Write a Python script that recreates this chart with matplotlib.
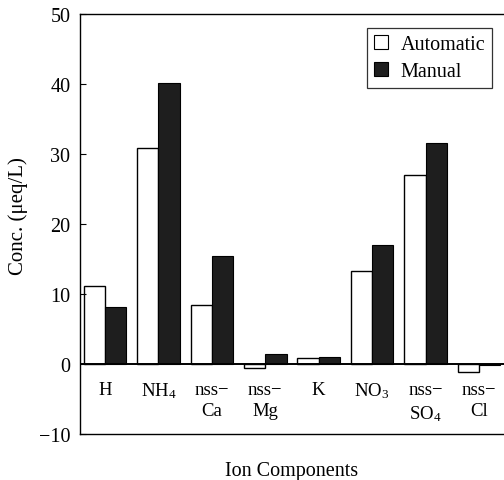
import numpy as np
import matplotlib.pyplot as plt
from matplotlib.patches import Patch

# ion components and mean concentrations (ueq/L) for the two samplers
ions = ["H", "NH$_4$", "nss\u2212\nCa", "nss\u2212\nMg", "K", "NO$_3$", "nss\u2212\nSO$_4$", "nss\u2212\nCl"]
automatic = [11.1, 30.9, 8.5, -0.5, 0.8, 13.3, 27.0, -1.2]
manual = [8.2, 40.1, 15.5, 1.4, 1.0, 17.0, 31.6, -0.2]
yticks = [-10, 0, 10, 20, 30, 40, 50]

plt.rcParams["font.family"] = ["Liberation Serif", "DejaVu Serif"]
plt.rcParams["mathtext.fontset"] = "custom"
plt.rcParams["mathtext.rm"] = "Liberation Serif"
plt.rcParams["mathtext.it"] = "Liberation Serif"

fig = plt.figure(figsize=(5.04, 4.81), dpi=100)
ax = fig.add_axes([80 / 504, 1 - 435 / 481, 1 - 80 / 504, 420 / 481])

x = np.arange(len(ions))
w = 0.4
ax.bar(x - w / 2, automatic, w, color="white", edgecolor="black", linewidth=1.0, label="Automatic")
ax.bar(x + w / 2, manual, w, color="#1e1e1e", edgecolor="black", linewidth=0.8, label="Manual")
ax.axhline(0, color="black", linewidth=1.4)

ax.set_xlim(-0.47, len(ions) - 0.53)
ax.set_ylim(-10, 50)
ax.set_yticks(yticks)
ax.set_xticks([])
ax.tick_params(axis="y", direction="in", length=4, labelsize=14.5, pad=7)
ax.spines["right"].set_visible(False)
for s in ("left", "top", "bottom"):
    ax.spines[s].set_linewidth(1.0)

# category names hang just below the zero line
for xi, name in zip(x, ions):
    ax.annotate(name, (xi, 0), xytext=(0, -12), textcoords="offset points",
                ha="center", va="top", fontsize=13.5, linespacing=1.35)

ax.set_ylabel("Conc. (\u03bceq/L)", fontsize=15)
ax.yaxis.set_label_coords(-0.123, 0.521)
ax.set_xlabel("Ion Components", fontsize=14.5)
ax.xaxis.set_label_coords(0.5, -0.064)

handles = [Patch(facecolor="white", edgecolor="black", linewidth=0.8, label="Automatic"),
           Patch(facecolor="#1e1e1e", edgecolor="black", linewidth=0.8, label="Manual")]
leg = ax.legend(handles=handles, loc="upper right", bbox_to_anchor=(0.972, 0.967),
                fontsize=14.5, frameon=True, fancybox=False, edgecolor="black",
                handlelength=0.7, handleheight=0.7, handletextpad=0.6,
                borderpad=0.35, labelspacing=0.4, borderaxespad=0)
leg.get_frame().set_linewidth(0.9)

fig.savefig("out.png", dpi=100)
